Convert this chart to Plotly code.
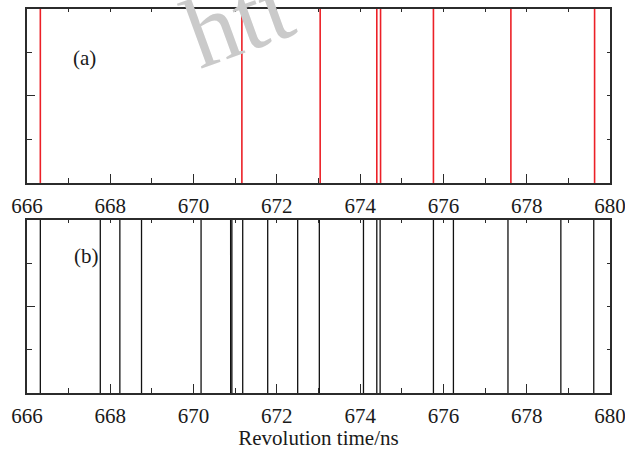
import plotly.graph_objects as go

# Arrival times (ns) of detected revolutions
times_a = [666.32, 671.16, 673.04, 674.40, 674.49, 675.76, 677.62, 679.63]
times_b = [666.32, 667.76, 668.23, 668.75, 670.18, 670.89, 670.92, 671.18,
           671.78, 672.50, 673.02, 674.08, 674.40, 674.48, 675.76, 676.24,
           677.55, 678.82, 679.61]

x_range = [666, 680]
x_ticks = [666, 668, 670, 672, 674, 676, 678, 680]
panel_labels = ["(a)", "(b)"]
x_title = "Revolution time/ns"

FONT = "Liberation Serif"
AX_COLOR = "#2b2b2b"


def stems(values):
    xs, ys = [], []
    for v in values:
        xs += [v, v, None]
        ys += [0, 1, None]
    return xs, ys


fig = go.Figure()
xa, ya = stems(times_a)
fig.add_trace(go.Scatter(x=xa, y=ya, mode="lines", xaxis="x", yaxis="y",
                         line=dict(color="#ec2027", width=1.6), showlegend=False,
                         hoverinfo="skip"))
xb, yb = stems(times_b)
fig.add_trace(go.Scatter(x=xb, y=yb, mode="lines", xaxis="x2", yaxis="y2",
                         line=dict(color="#111111", width=1.3), showlegend=False,
                         hoverinfo="skip"))

top_dom = [0.547, 1.0]
bot_dom = [0.0, 0.451]


def xaxis(anchor, title=None):
    d = dict(range=x_range, anchor=anchor, domain=[0, 1], automargin=False,
             showline=True, linecolor=AX_COLOR, linewidth=1.5, mirror=True,
             ticks="inside", ticklen=9, tickwidth=1.2, tickcolor=AX_COLOR,
             tickvals=x_ticks, ticktext=[str(t) for t in x_ticks],
             ticklabeloverflow="allow", ticklabelstandoff=3,
             minor=dict(ticks="inside", ticklen=5, dtick=1, tick0=666,
                        tickcolor=AX_COLOR, tickwidth=1.2),
             tickfont=dict(family=FONT, size=21, color="#1a1a1a"),
             showgrid=False, zeroline=False, fixedrange=True)
    if title:
        d["title"] = dict(text=title, standoff=7,
                          font=dict(family=FONT, size=21, color="#1a1a1a"))
    return d


def yaxis(anchor, dom):
    return dict(range=[0, 1], anchor=anchor, domain=dom, automargin=False,
                showline=True, linecolor=AX_COLOR, linewidth=1.5, mirror=True,
                ticks="inside", ticklen=8, tickwidth=1.2, tickcolor=AX_COLOR,
                tickvals=[0.5], showticklabels=False,
                minor=dict(ticks="inside", ticklen=5, tickvals=[0.25, 0.75],
                           tickcolor=AX_COLOR, tickwidth=1.2),
                showgrid=False, zeroline=False, fixedrange=True)


def top_ticks(anchor, overlay):
    return dict(range=x_range, overlaying=overlay, automargin=False,
                side="top", anchor=anchor, showline=False, ticks="inside",
                ticklen=3, tickwidth=1.2, tickcolor=AX_COLOR, dtick=1, tick0=666,
                showticklabels=False, showgrid=False, zeroline=False,
                fixedrange=True)


def right_ticks(anchor_x, overlay):
    return dict(range=[0, 1], overlaying=overlay, side="right", anchor=anchor_x,
                automargin=False, showline=False, ticks="inside", ticklen=3,
                tickwidth=1.2, tickcolor=AX_COLOR, tickvals=[0.25, 0.5, 0.75],
                showticklabels=False, showgrid=False, zeroline=False,
                fixedrange=True)


fig.update_layout(
    width=625, height=450,
    margin=dict(l=26.5, r=14.5, t=9, b=56.7),
    paper_bgcolor="white", plot_bgcolor="white",
    xaxis=xaxis("y"),
    yaxis=yaxis("x", top_dom),
    xaxis2=xaxis("y2", x_title),
    yaxis2=yaxis("x2", bot_dom),
    xaxis3=top_ticks("y", "x"),
    xaxis4=top_ticks("y2", "x2"),
    yaxis3=right_ticks("x", "y"),
    yaxis4=right_ticks("x2", "y2"),
)

# invisible traces so the overlay tick axes render
fig.add_trace(go.Scatter(x=[None], y=[None], xaxis="x3", yaxis="y3",
                         showlegend=False, hoverinfo="skip"))
fig.add_trace(go.Scatter(x=[None], y=[None], xaxis="x4", yaxis="y4",
                         showlegend=False, hoverinfo="skip"))


def px_x(p):
    return (p - 26.5) / 584.0


def px_y(p):
    return (393.3 - p) / 384.0


fig.add_annotation(text=panel_labels[0], xref="paper", yref="paper",
                   x=px_x(71), y=px_y(44), showarrow=False,
                   font=dict(family=FONT, size=21, color="#1a1a1a"))
fig.add_annotation(text=panel_labels[1], xref="paper", yref="paper",
                   x=px_x(72), y=px_y(256), showarrow=False,
                   font=dict(family=FONT, size=21, color="#1a1a1a"))

# faint watermark text
fig.add_annotation(text="htt", xref="paper", yref="paper",
                   x=px_x(238), y=px_y(-53), showarrow=False, textangle=-20,
                   font=dict(family=FONT, size=100, color="#cacaca"))

fig.write_html("out.html")
